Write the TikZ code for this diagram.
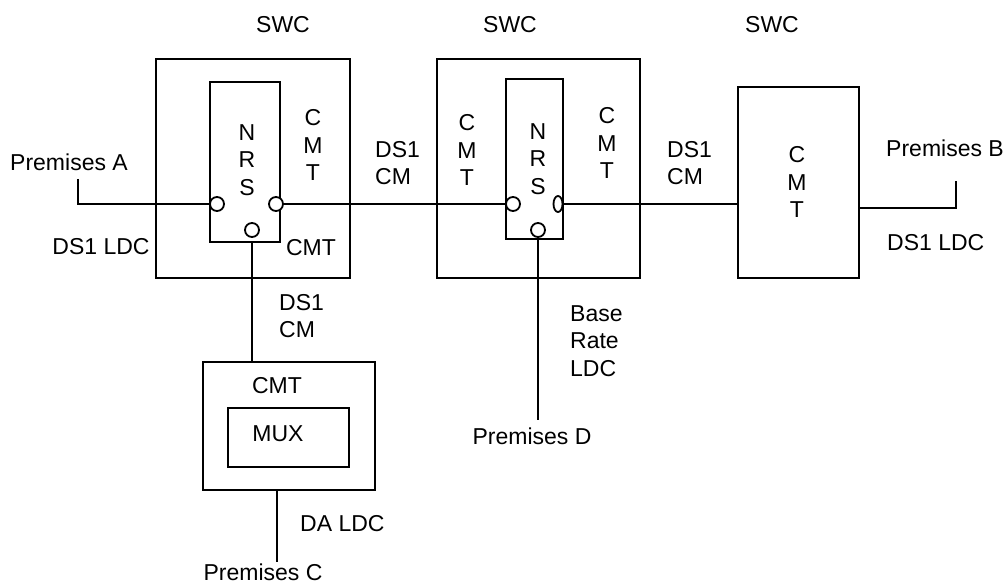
\documentclass[tikz,border=0pt]{standalone}
\usepackage{fontspec}
\setmainfont{Liberation Sans}
\usetikzlibrary{positioning,calc,shapes.geometric}
\tikzset{
  sw box/.style={draw=black, line width=2pt, minimum width=#1, inner sep=0pt},
  sw port/.style={circle, draw=black, line width=1.8pt, fill=white, minimum size=14pt, inner sep=0pt},
  sw oval/.style={ellipse, draw=black, line width=1.8pt, fill=white, minimum width=9pt, minimum height=16pt, inner sep=0pt},
  sw line/.style={draw=black, line width=2pt},
  sw label/.style={font=\fontsize{23}{27.5}\selectfont, inner sep=0pt, align=center},
  sw side label/.style={sw label, anchor=west, align=left}
}
\begin{document}
\begin{tikzpicture}[x=1pt,y=-1pt]
  \useasboundingbox (0,0) rectangle (1008,585);

  % switching centers
  \node[sw box=194pt, minimum height=219pt] (swcA) at (253,168.5) {};
  \node[sw box=70pt, minimum height=160pt] (nrsA) at (245,162) {};
  \node[sw box=203pt, minimum height=219pt] (swcB) at (538.5,168.5) {};
  \node[sw box=57pt, minimum height=160pt] (nrsB) at (534.5,159) {};
  \node[sw box=121pt, minimum height=191pt] (cmtC) at (798.5,182.5) {};
  \node[sw box=172pt, minimum height=128pt] (cmtD) at (289,426) {};
  \node[sw box=121pt, minimum height=59pt] (mux) at (288.5,437.5) {};

  % ports
  \node[sw port] (pAl) at (217,204) {};
  \node[sw port] (pAr) at (276,204) {};
  \node[sw port] (pAb) at (252,230) {};
  \node[sw port] (pBl) at (513,204) {};
  \node[sw oval] (pBr) at (558,204) {};
  \node[sw port] (pBb) at (538,230) {};

  \coordinate (premA) at (78,179);
  \coordinate (premB) at (956,181);
  \coordinate (premC) at (277,562);
  \coordinate (premD) at (538,420);

  % circuits
  \draw[sw line] (premA) -- (premA |- pAl) -- (pAl.west);
  \draw[sw line] (pAr.east) -- (pBl.west);
  \draw[sw line] (pBr.east) -- (pBr.east -| cmtC.west);
  \draw[sw line] (cmtC.east |- 0,208) -- (premB |- 0,208) -- (premB);
  \draw[sw line] (pAb |- nrsA.south) -- (pAb |- cmtD.north);
  \draw[sw line] (premC |- cmtD.south) -- (premC);
  \draw[sw line] (pBb |- nrsB.south) -- (premD);

  % labels
  \node[sw label] (swcAl) at (283,25) {SWC};
  \node[sw label] (swcBl) at (510,25) {SWC};
  \node[sw label] (swcCl) at (772,25) {SWC};
  \node[sw label] (nrsAl) at (247,160) {N\\R\\S};
  \node[sw label] (cmtAr) at (313,145) {C\\M\\T};
  \node[sw label] (cmtAb) at (311,248) {CMT};
  \node[sw label] (cmtBl) at (467,150) {C\\M\\T};
  \node[sw label] (nrsBl) at (538,159) {N\\R\\S};
  \node[sw label] (cmtBr) at (607,143) {C\\M\\T};
  \node[sw label] (cmtCl) at (797,182) {C\\M\\T};
  \node[sw label] (cmtDl) at (277,386) {CMT};
  \node[sw label] (muxl) at (278,434) {MUX};
  \node[sw label] (premAl) at (69,162) {Premises A};
  \node[sw label] (ldcA) at (101,247) {DS1 LDC};
  \node[sw side label] (cmAB) at (375,163) {DS1\\CM};
  \node[sw side label] (cmBC) at (667,163) {DS1\\CM};
  \node[sw side label] (premBl) at (886,148) {Premises B};
  \node[sw side label] (ldcB) at (887,243) {DS1 LDC};
  \node[sw side label] (cmAD) at (279,316) {DS1\\CM};
  \node[sw side label] (ldcC) at (300,524) {DA LDC};
  \node[sw label] (premCl) at (263,572) {Premises C};
  \node[sw side label] (ldcD) at (570,341) {Base\\Rate\\LDC};
  \node[sw label] (premDl) at (532,436) {Premises D};
\end{tikzpicture}
\end{document}
